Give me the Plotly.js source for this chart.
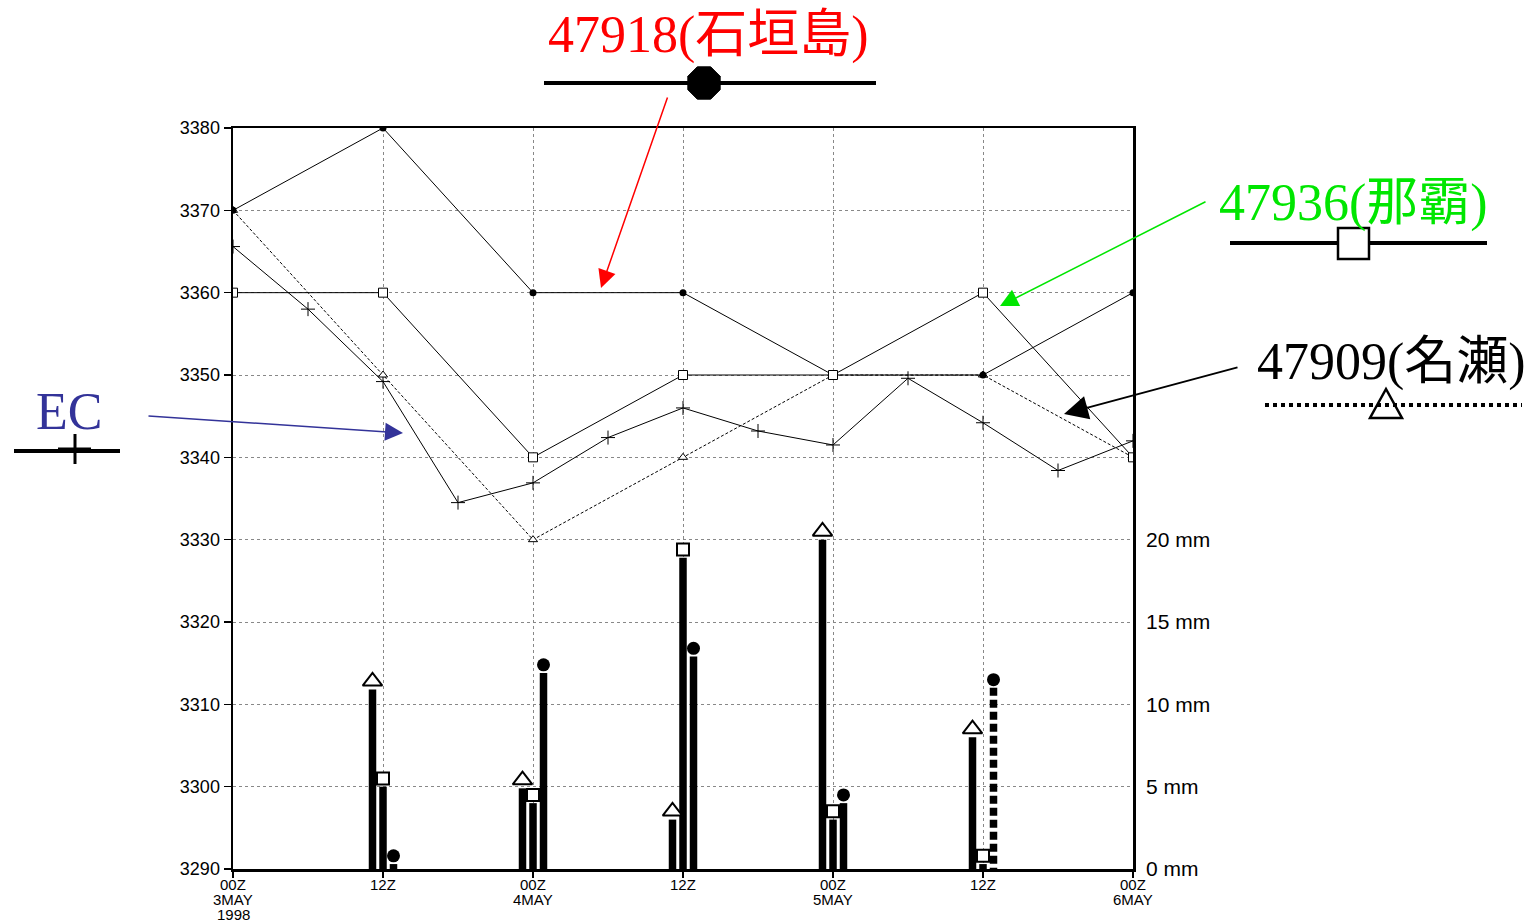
<!DOCTYPE html>
<html><head><meta charset="utf-8">
<script src="https://cdn.plot.ly/plotly-3.0.1.min.js"></script>
<style>html,body{margin:0;padding:0;background:#fff;} #chart{width:1537px;height:922px;}</style>
</head><body><div id="chart"></div>
<script>
// ---------------- data ----------------
const synopticHours = [0, 12, 24, 36, 48, 60, 72];
const ecHours = [0, 6, 12, 18, 24, 30, 36, 42, 48, 54, 60, 66, 72];
const z47918 = [3370, 3380, 3360, 3360, 3350, 3350, 3360];
const z47936 = [3360, 3360, 3340, 3350, 3350, 3360, 3340];
const z47909 = [3370, 3350, 3330, 3340, 3350, 3350, 3340];
const zEC = [3365.6, 3358.0, 3349.2, 3334.5, 3336.9, 3342.4, 3346.0, 3343.2, 3341.5, 3349.6, 3344.2, 3338.4, 3342.0];

const rainHours = [12, 24, 36, 48, 60];
const rain47909 = [10.9, 4.9, 3.0, 20.0, 8.0];
const rain47936 = [5.0, 4.0, 18.9, 3.0, 0.3];
const rain47918 = [0.3, 11.9, 12.9, 4.0, 11.0];
const rain47918Estimated = [false, false, false, false, true];

const tickHours = [0, 12, 24, 36, 48, 60, 72];
const tickRow1 = ["00Z", "12Z", "00Z", "12Z", "00Z", "12Z", "00Z"];
const tickRow2 = ["3MAY", "", "4MAY", "", "5MAY", "", "6MAY"];
const tickRow3 = ["1998", "", "", "", "", "", ""];
const heightTicks = [3290, 3300, 3310, 3320, 3330, 3340, 3350, 3360, 3370, 3380];
const rainTicks = [0, 5, 10, 15, 20];
const rainTickText = ["0 mm", "5 mm", "10 mm", "15 mm", "20 mm"];

const stationLabels = {
  s47918: "47918(石垣島)",
  s47936: "47936(那霸)",
  s47909: "47909(名瀬)",
  ec: "EC"
};

// ---------------- geometry helpers (plot area in pixels) ----------------
const L = 233, R = 1133, T = 128, B = 869;
const W = R - L, H = B - T;
const px = x => (x - L) / W;
const py = y => (B - y) / H;

// bar placement (hours relative to the synoptic time)
const BAR_W = 0.6;
const OFF_TRI = -0.84, OFF_SQ = 0.0, OFF_CIR = 0.84;

const sansFamily = "Liberation Sans, Arial, sans-serif";
const tickFont = {family: sansFamily, size: 18, color: "#000"};
const serifBig = "Liberation Serif, 'Noto Sans CJK TC', 'Noto Sans CJK JP', serif";

const traces = [];

// upper-air lines
traces.push({
  x: ecHours, y: zEC, type: "scatter", mode: "lines+markers",
  line: {color: "#000", width: 1},
  marker: {symbol: "cross-thin-open", size: 10, color: "#000", line: {width: 1, color: "#000"}},
  hoverinfo: "skip"
});
traces.push({
  x: synopticHours, y: z47909, type: "scatter", mode: "lines+markers",
  line: {color: "#000", width: 1, dash: "3px,2px"},
  marker: {symbol: "triangle-up", size: 8, color: "#fff", line: {width: 1, color: "#000"}},
  hoverinfo: "skip"
});
traces.push({
  x: synopticHours, y: z47918, type: "scatter", mode: "lines+markers",
  line: {color: "#000", width: 1},
  marker: {symbol: "circle", size: 7, color: "#000"},
  hoverinfo: "skip"
});
traces.push({
  x: synopticHours, y: z47936, type: "scatter", mode: "lines+markers",
  line: {color: "#000", width: 1},
  marker: {symbol: "square", size: 9, color: "#fff", line: {width: 1, color: "#000"}},
  hoverinfo: "skip"
});

// precipitation bars
traces.push({
  x: rainHours, y: rain47909, type: "bar", yaxis: "y2",
  width: BAR_W, offset: OFF_TRI - BAR_W / 2, marker: {color: "#000", line: {width: 0}}, hoverinfo: "skip"
});
traces.push({
  x: rainHours, y: rain47936, type: "bar", yaxis: "y2",
  width: BAR_W, offset: OFF_SQ - BAR_W / 2, marker: {color: "#000", line: {width: 0}}, hoverinfo: "skip"
});
traces.push({
  x: rainHours, y: rain47918.map((v, i) => rain47918Estimated[i] ? null : v), type: "bar", yaxis: "y2",
  width: BAR_W, offset: OFF_CIR - BAR_W / 2, marker: {color: "#000", line: {width: 0}}, hoverinfo: "skip"
});
rain47918.forEach((v, i) => {
  if (!rain47918Estimated[i]) return;
  traces.push({
    x: [rainHours[i] + OFF_CIR, rainHours[i] + OFF_CIR], y: [v, 0], type: "scatter", mode: "lines",
    yaxis: "y2", line: {color: "#000", width: 7.5, dash: "8px,4px"}, hoverinfo: "skip"
  });
});

// precipitation markers (slightly raised overlay axis so they sit on the bar tops)
traces.push({
  x: rainHours.map(h => h + OFF_TRI), y: rain47909, type: "scatter", mode: "markers", yaxis: "y3",
  marker: {symbol: "triangle-up", size: 17, color: "#fff", line: {width: 2, color: "#000"}}, hoverinfo: "skip"
});
traces.push({
  x: rainHours.map(h => h + OFF_SQ), y: rain47936, type: "scatter", mode: "markers", yaxis: "y3",
  marker: {symbol: "square", size: 12, color: "#fff", line: {width: 2, color: "#000"}}, hoverinfo: "skip"
});
traces.push({
  x: rainHours.map(h => h + OFF_CIR), y: rain47918, type: "scatter", mode: "markers", yaxis: "y3",
  marker: {symbol: "circle", size: 13, color: "#000"}, hoverinfo: "skip"
});

// ---------------- annotations ----------------
const annotations = [];
const timeFont = {family: sansFamily, size: 15, color: "#000"};
tickHours.forEach((h, i) => {
  [[tickRow1, 884], [tickRow2, 899], [tickRow3, 914]].forEach(([row, yy]) => {
    if (row[i]) annotations.push({xref: "x", x: h, yref: "paper", y: py(yy), text: row[i],
      showarrow: false, xanchor: "center", yanchor: "middle", borderpad: 0, font: timeFont});
  });
});

function label(text, lx, ly, color) {
  annotations.push({xref: "paper", yref: "paper", x: px(lx), y: py(ly), text: text, showarrow: false,
    xanchor: "left", yanchor: "middle", font: {family: serifBig, size: 52, color: color}});
}
label(stationLabels.s47918, 546, 35, "#ff0000");
label(stationLabels.s47936, 1217, 203, "#00e600");
label(stationLabels.s47909, 1255, 362, "#000000");
label(stationLabels.ec, 34, 412, "#333399");

function arrow(tipX, tipY, tailX, tailY, color, w) {
  annotations.push({xref: "paper", yref: "paper", x: px(tipX), y: py(tipY), ax: tailX - tipX, ay: tailY - tipY,
    axref: "pixel", ayref: "pixel", text: "", showarrow: true, arrowhead: 2, arrowsize: 2.4, arrowwidth: w,
    arrowcolor: color, standoff: 0, startstandoff: 0});
}
arrow(601, 288, 668, 96, "#ff0000", 1.5);
arrow(1000, 306, 1207, 201, "#00e600", 1.5);
arrow(1064, 414, 1239, 367, "#000000", 2);
arrow(403, 433, 147, 416, "#333399", 1.5);

// ---------------- legend-like decorations ----------------
const shapes = [];
function hline(x0, x1, y, w, dash) {
  shapes.push({type: "line", xref: "paper", yref: "paper", x0: px(x0), x1: px(x1), y0: py(y), y1: py(y),
    line: {color: "#000", width: w, dash: dash || "solid"}});
}
function vline(x, y0, y1, w) {
  shapes.push({type: "line", xref: "paper", yref: "paper", x0: px(x), x1: px(x), y0: py(y0), y1: py(y1),
    line: {color: "#000", width: w}});
}
// 47918: line + octagon
hline(544, 876, 83, 4);
(function () {
  const cx = 704, cy = 83, r = 17.5;
  let d = "";
  for (let k = 0; k < 8; k++) {
    const a = Math.PI / 8 + k * Math.PI / 4;
    d += (k === 0 ? "M" : "L") + px(cx + r * Math.cos(a)) + "," + py(cy + r * Math.sin(a));
  }
  shapes.push({type: "path", xref: "paper", yref: "paper", path: d + "Z", fillcolor: "#000", line: {color: "#000", width: 1}});
})();
// 47936: line + square
hline(1230, 1487, 243, 4);
shapes.push({type: "rect", xref: "paper", yref: "paper", x0: px(1338), x1: px(1369), y0: py(228), y1: py(259),
  fillcolor: "#fff", line: {color: "#000", width: 2.5}});
// 47909: dotted line + triangle
hline(1265, 1522, 405, 4, "4px,4px");
shapes.push({type: "path", xref: "paper", yref: "paper",
  path: "M" + px(1370) + "," + py(418) + "L" + px(1402) + "," + py(418) + "L" + px(1386) + "," + py(389) + "Z",
  fillcolor: "rgba(255,255,255,0)", line: {color: "#000", width: 2.5}});
// EC: line + plus
hline(14, 120, 451, 4);
hline(58, 91, 449, 3);
vline(75, 434, 464, 3);

const axisLine = {showline: true, linecolor: "#000", linewidth: 2.5, mirror: true};

const layout = {
  width: 1537, height: 922,
  margin: {l: L, r: 1537 - R, t: T, b: 922 - B, pad: 0},
  paper_bgcolor: "#fff", plot_bgcolor: "#fff",
  showlegend: false,
  barmode: "overlay",
  xaxis: Object.assign({
    range: [0, 72], tickmode: "array", tickvals: tickHours, showticklabels: false,
    ticks: "outside", ticklen: 6, tickwidth: 1.5, tickcolor: "#000",
    showgrid: true, gridcolor: "#888", gridwidth: 1, griddash: "dot", zeroline: false
  }, axisLine),
  yaxis: Object.assign({
    range: [3290, 3380], tickmode: "array", tickvals: heightTicks,
    ticks: "outside", ticklen: 7, tickwidth: 1.5, tickcolor: "#000",
    showgrid: true, gridcolor: "#888", gridwidth: 1, griddash: "dot", zeroline: false,
    tickfont: tickFont
  }, axisLine),
  yaxis2: {
    overlaying: "y", side: "right", range: [0, 45], tickmode: "array", tickvals: rainTicks, ticktext: rainTickText,
    showgrid: false, zeroline: false, showline: false, ticks: "", ticklabelstandoff: 12,
    tickfont: {family: sansFamily, size: 21, color: "#000"}
  },
  yaxis3: {overlaying: "y", range: [-0.5, 44.5], visible: false, showgrid: false, zeroline: false},
  annotations: annotations,
  shapes: shapes
};

Plotly.newPlot("chart", traces, layout, {staticPlot: true, displayModeBar: false});
</script>
</body></html>
